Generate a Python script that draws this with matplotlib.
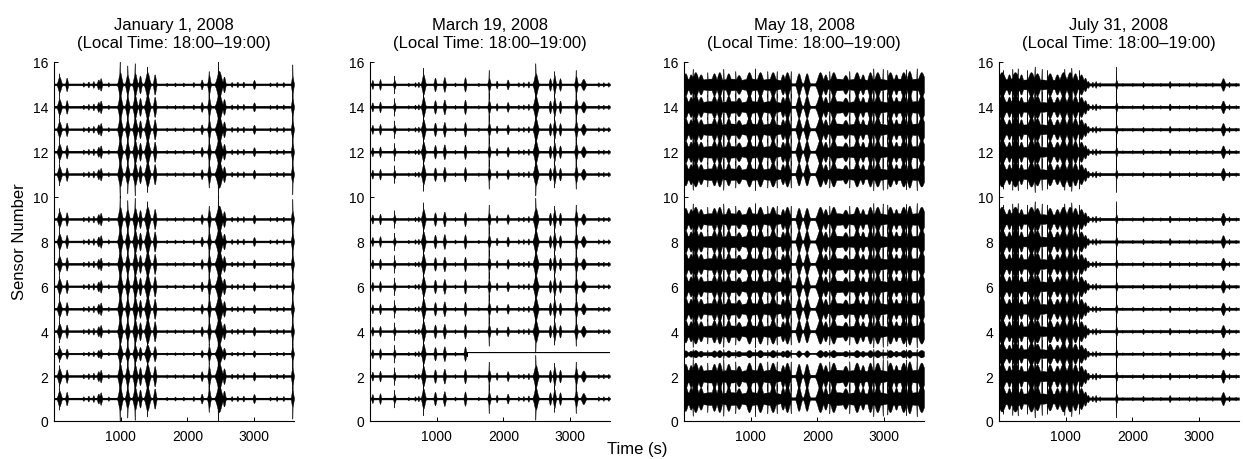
import numpy as np
import matplotlib
matplotlib.use("Agg")
import matplotlib.pyplot as plt

plt.rcParams['font.family'] = ['Liberation Sans', 'DejaVu Sans']

# ---------------- data ----------------
titles = ["January 1, 2008", "March 19, 2008", "May 18, 2008", "July 31, 2008"]
subtitle = "(Local Time: 18:00\u201319:00)"
sensors = [1, 2, 3, 4, 5, 6, 7, 8, 9, 11, 12, 13, 14, 15]
x_ticks = [1000, 2000, 3000]
y_ticks = [0, 2, 4, 6, 8, 10, 12, 14, 16]
duration = 3600

# bursts of each day: centre time (s), half amplitude (sensor units), spread (s)
p1_t = [80, 75, 190, 440, 515, 590, 665, 700, 815, 990, 985, 1100, 1100, 1215, 1210, 1290,
        1400, 1395, 1510, 1690, 1815, 1940, 2090, 2215, 2325, 2320, 2475, 2460, 2550,
        2665, 2750, 2840, 3000, 3240, 3340, 3440, 3575, 3575]
p1_a = [0.35, 0.5, 0.3, 0.10, 0.13, 0.15, 0.22, 0.28, 0.10, 0.55, 1.05, 0.45, 0.85, 0.50, 0.95, 0.40,
        0.55, 0.80, 0.45, 0.08, 0.09, 0.09, 0.11, 0.22, 0.42, 0.60, 0.60, 1.05, 0.35,
        0.11, 0.12, 0.13, 0.20, 0.09, 0.11, 0.11, 0.40, 0.90]
p1_w = [20, 4, 12, 10, 10, 10, 14, 12, 9, 20, 4, 18, 4, 20, 4, 14,
        24, 5, 14, 9, 9, 9, 10, 12, 14, 4, 30, 5, 14,
        10, 10, 10, 13, 9, 10, 10, 12, 3]
p1_base = 0.04
p1_scale = [1.0, 1.0, 0.75, 1.0, 1.0, 1.0, 1.0, 1.0, 1.0, 1.0, 1.0, 1.0, 1.0, 1.0]

p2_t = [35, 150, 365, 360, 575, 675, 725, 800, 795, 975, 1115, 1275, 1425, 1625,
        1785, 1780, 1900, 2065, 2225, 2300, 2375, 2485, 2480, 2700, 2765, 2760, 2850,
        3090, 3085, 3200, 3425, 3500, 3575]
p2_a = [0.20, 0.24, 0.20, 0.40, 0.08, 0.10, 0.12, 0.45, 0.75, 0.30, 0.33, 0.09, 0.32, 0.08,
        0.28, 0.65, 0.17, 0.22, 0.10, 0.11, 0.14, 0.50, 0.95, 0.28, 0.42, 0.60, 0.28,
        0.38, 0.65, 0.25, 0.10, 0.10, 0.10]
p2_w = [10, 10, 12, 3, 9, 9, 9, 18, 4, 13, 13, 9, 12, 9,
        14, 3, 10, 12, 9, 9, 9, 22, 4, 12, 13, 3, 12,
        14, 3, 22, 9, 9, 9]
p2_base = 0.04
p2_scale = [1.0] * 14
p2_dead_sensor = 3
p2_dead_from = 1450

p3_t = [20, 100, 170, 250, 450, 530, 665, 820, 975, 1140, 1330, 1480, 1545, 1720, 1840,
        2040, 2120, 2240, 2420, 2590, 2680, 2790, 2900, 3090, 3180, 3290, 3380, 3560,
        100, 400, 700, 1000, 1300, 2300, 2600, 2900, 3200, 3500, 3650,
        130, 350, 590, 770, 1065, 1250, 1390, 1600, 2180, 2480, 2840, 2980, 3050, 3330, 3490]
p3_a = [0.50, 0.45, 0.55, 0.45, 0.50, 0.55, 0.50, 0.42, 0.55, 0.55, 0.55, 0.45, 0.55, 0.50, 0.50,
        0.55, 0.45, 0.55, 0.42, 0.55, 0.45, 0.55, 0.55, 0.55, 0.45, 0.55, 0.60, 0.55,
        0.26, 0.26, 0.26, 0.26, 0.26, 0.26, 0.26, 0.26, 0.26, 0.26, 0.26,
        0.70, 0.55, 0.70, 0.60, 0.72, 0.60, 0.60, 0.60, 0.60, 0.60, 0.72, 0.70, 0.65, 0.68, 0.72]
p3_w = [30, 25, 35, 30, 30, 30, 30, 35, 35, 35, 35, 25, 30, 25, 25,
        35, 25, 35, 35, 35, 25, 30, 35, 35, 25, 35, 30, 40,
        200, 200, 200, 200, 180, 180, 200, 200, 200, 200, 200,
        4, 4, 4, 4, 4, 4, 4, 4, 4, 4, 4, 4, 4, 4, 4]
p3_base = 0.05
p3_scale = [1.1, 1.1, 0.3, 1.0, 1.0, 1.0, 1.0, 1.0, 1.0, 1.0, 1.0, 1.0, 1.0, 1.0]

p4_t = [40, 150, 240, 330, 480, 570, 760, 870, 960, 1060, 1140, 1230, 1290,
        100, 400, 650, 900, 1150,
        60, 200, 280, 420, 535, 640, 720, 980, 1085, 1200,
        1335, 1400, 1450, 1510, 1760, 1755, 1850, 2000, 2160, 2300, 2420, 2560,
        2700, 2850, 2960, 3100, 3200, 3360, 3450, 3550]
p4_a = [0.55, 0.45, 0.55, 0.45, 0.55, 0.50, 0.50, 0.45, 0.55, 0.55, 0.50, 0.45, 0.30,
        0.24, 0.22, 0.22, 0.24, 0.22,
        0.65, 0.70, 0.72, 0.65, 0.80, 0.70, 0.65, 0.70, 0.75, 0.65,
        0.15, 0.12, 0.15, 0.10, 0.20, 0.80, 0.07, 0.08, 0.12, 0.08, 0.08, 0.15,
        0.08, 0.10, 0.10, 0.08, 0.10, 0.28, 0.12, 0.08]
p4_w = [45, 25, 45, 25, 40, 35, 35, 30, 40, 35, 30, 30, 20,
        150, 120, 120, 150, 100,
        4, 4, 4, 4, 5, 4, 4, 4, 5, 4,
        12, 10, 10, 8, 12, 3, 8, 8, 10, 8, 8, 12,
        8, 8, 10, 8, 8, 20, 8, 8]
p4_base = 0.05
p4_scale = [1.05, 1.05, 0.9, 1.0, 1.0, 1.0, 1.0, 1.0, 1.0, 1.0, 1.0, 1.0, 1.0, 1.0]

panels = [
    (p1_t, p1_a, p1_w, p1_base, p1_scale),
    (p2_t, p2_a, p2_w, p2_base, p2_scale),
    (p3_t, p3_a, p3_w, p3_base, p3_scale),
    (p4_t, p4_a, p4_w, p4_base, p4_scale),
]


def envelope(t, times, amps, widths, base):
    env = np.full_like(t, base)
    for tc, a, w in zip(times, amps, widths):
        env = np.maximum(env, a * np.exp(-0.5 * ((t - tc) / w) ** 2))
    return env


# ---------------- figure ----------------
W, H = 1243, 460
fig = plt.figure(figsize=(W / 100, H / 100), dpi=100)
lefts_px = [54, 370, 684, 999]
ax_w_px, ax_bottom_px, ax_top_px = 240, 422, 63

t = np.linspace(0, duration, 7201)

for i, (times, amps, widths, base, scale) in enumerate(panels):
    ax = fig.add_axes([lefts_px[i] / W, 1 - ax_bottom_px / H,
                       ax_w_px / W, (ax_bottom_px - ax_top_px) / H])
    env = envelope(t, times, amps, widths, base)
    for s, sc in zip(sensors, scale):
        e = env * sc
        if i == 1 and s == p2_dead_sensor:
            alive = t < p2_dead_from
            ax.fill_between(t[alive], s - e[alive], s + e[alive], color='black', lw=0.3)
            ax.plot(t[alive], np.full(alive.sum(), s), color='black', lw=0.8)
            ax.plot([p2_dead_from, p2_dead_from], [s - 0.12, s + 0.05], color='black', lw=0.7)
            ax.plot(t[~alive], np.full((~alive).sum(), s + 0.05), color='black', lw=0.8)
            continue
        ax.fill_between(t, s - e, s + e, color='black', lw=0.3)
        ax.plot(t, np.full_like(t, s), color='black', lw=0.8)

    ax.set_xlim(0, duration)
    ax.set_ylim(0, 16)
    ax.set_xticks(x_ticks)
    ax.set_yticks(y_ticks)
    ax.tick_params(direction='in', length=3, width=0.7, labelsize=10, pad=4,
                   top=False, right=False)
    ax.tick_params(axis='x', pad=6)
    for sp in ['top', 'right']:
        ax.spines[sp].set_visible(False)
    for sp in ['left', 'bottom']:
        ax.spines[sp].set_linewidth(0.8)
    ax.set_title(titles[i] + "\n" + subtitle, fontsize=12, pad=11, linespacing=1.2)

fig.text(20 / W, 1 - 242 / H, "Sensor Number", rotation=90, ha='center', va='center',
         fontsize=12)
fig.text(637 / W, 1 - 450 / H, "Time (s)", ha='center', va='center', fontsize=12)

fig.savefig("out.png", dpi=100)
